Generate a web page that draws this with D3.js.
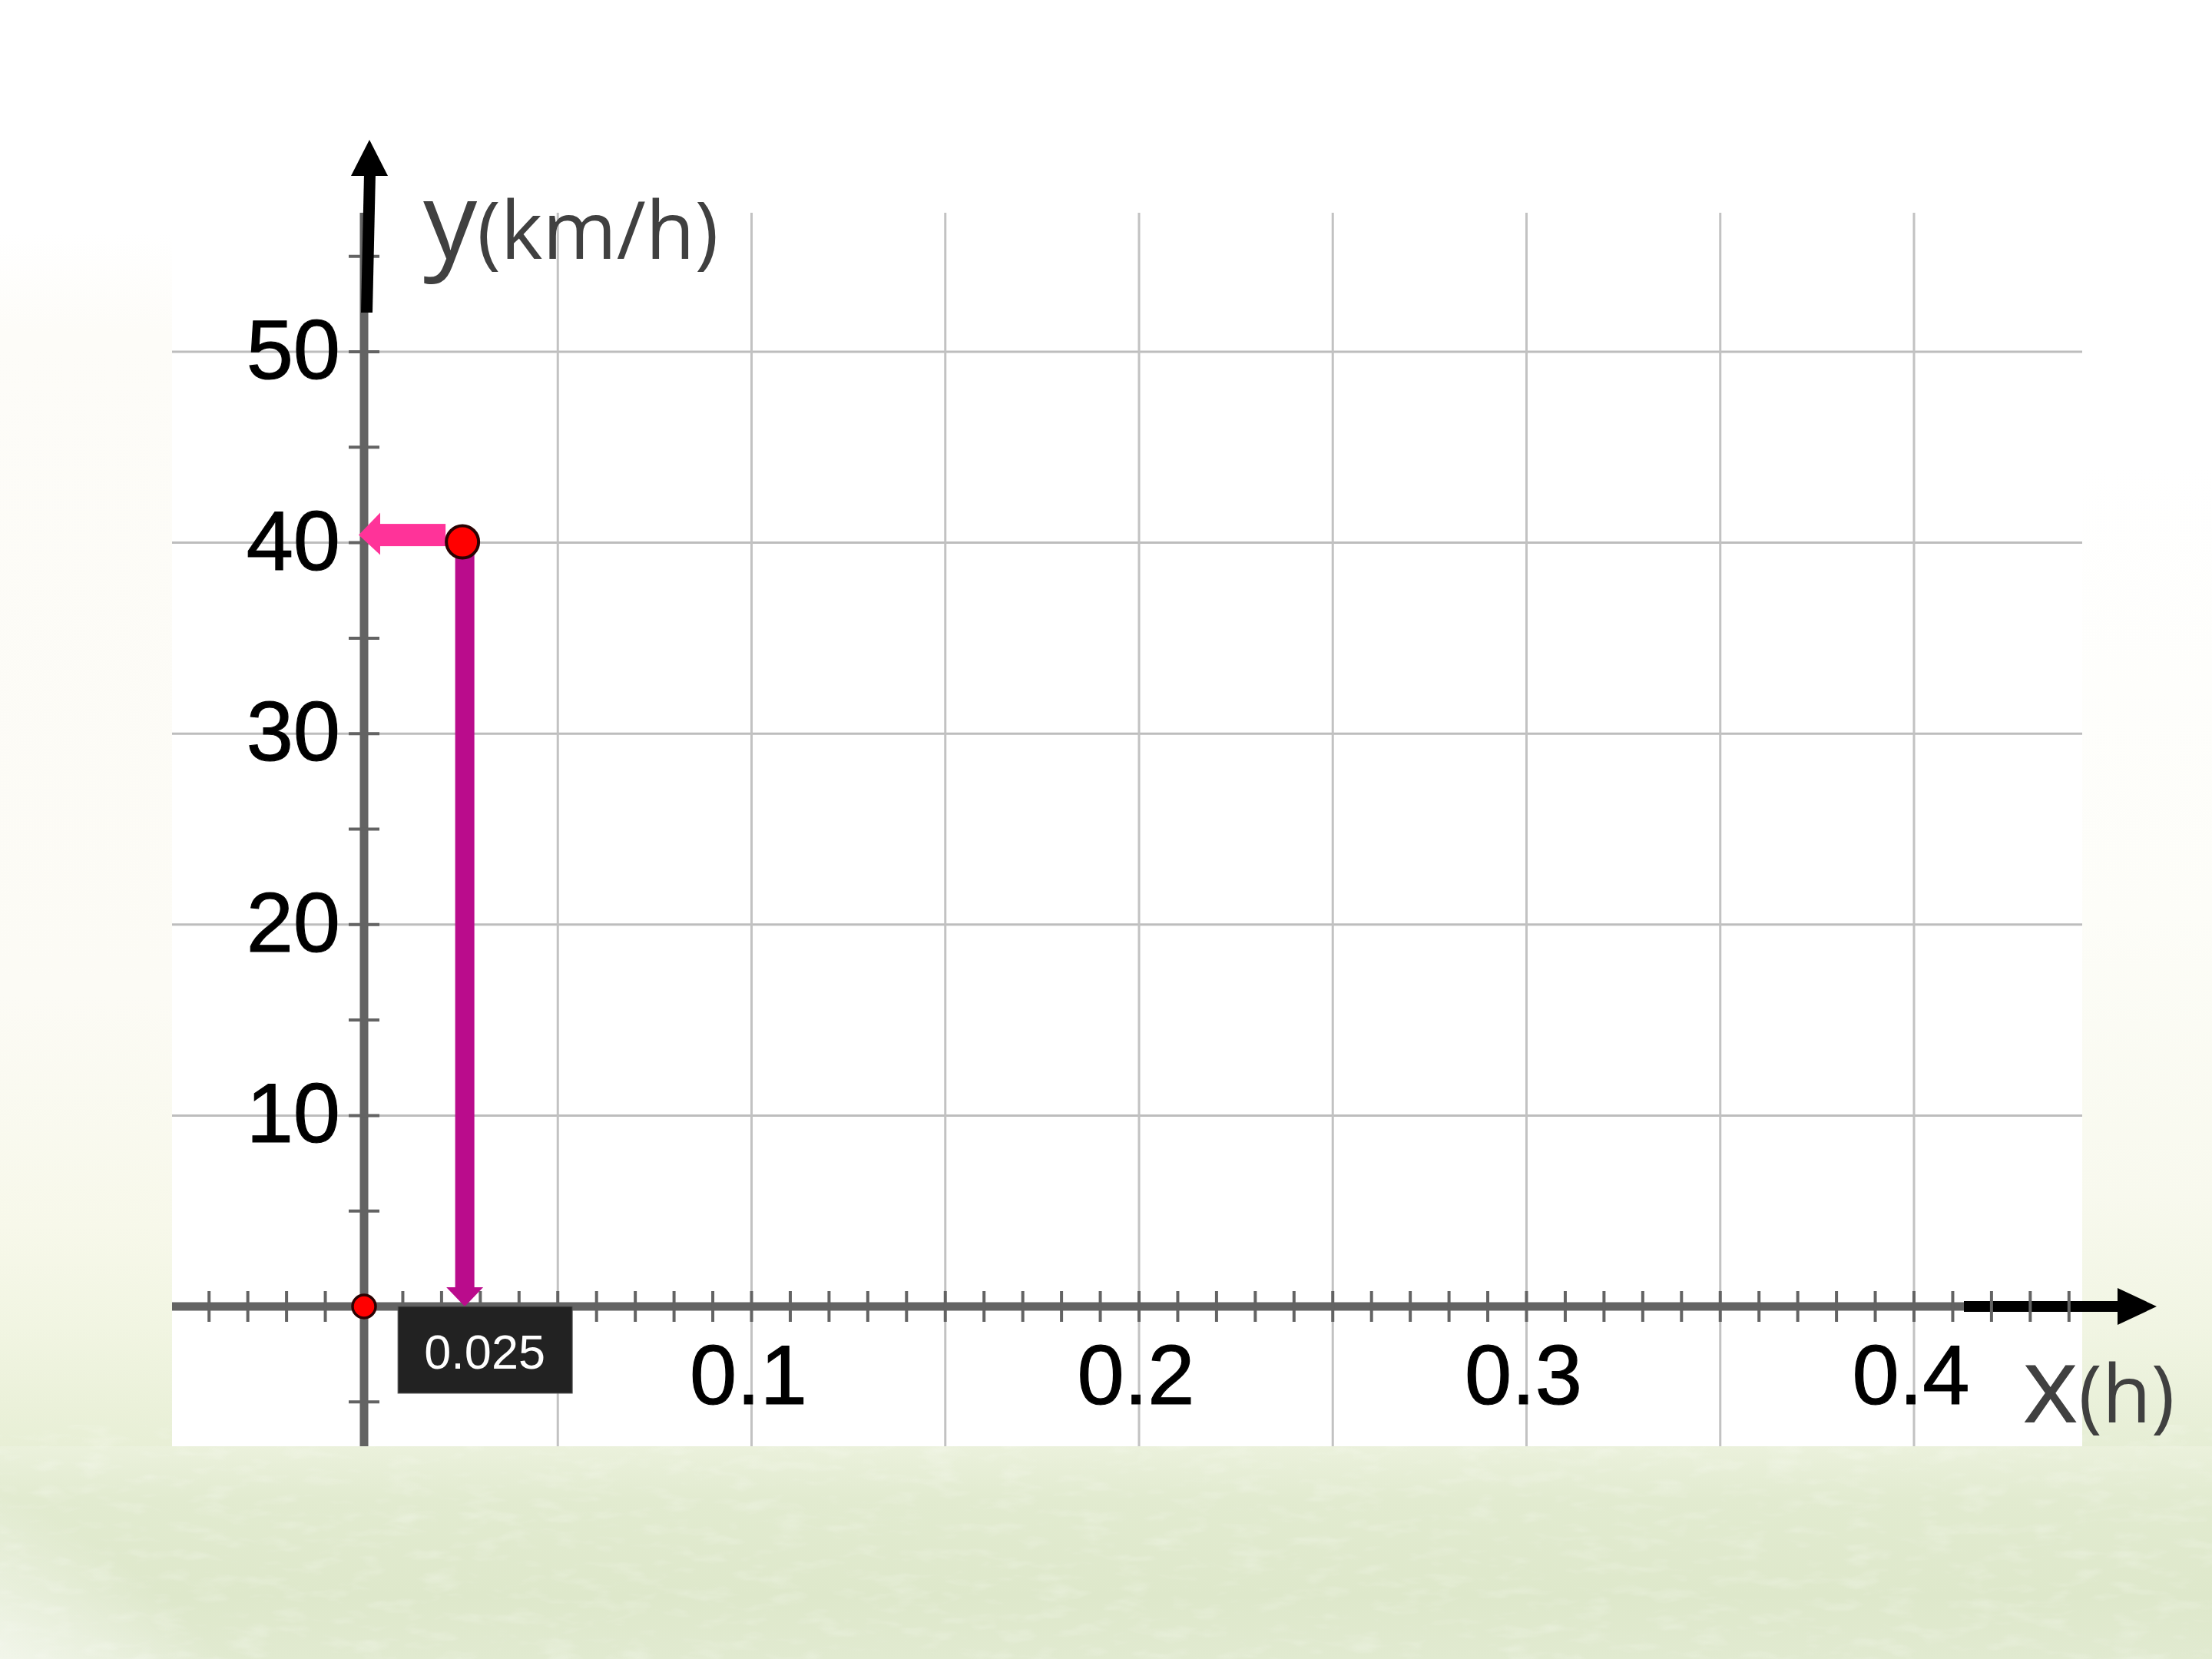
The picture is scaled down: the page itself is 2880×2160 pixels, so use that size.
<!DOCTYPE html>
<html>
<head>
<meta charset="utf-8">
<script src="https://cdn.jsdelivr.net/npm/d3@7"></script>
<style>
  html, body { margin: 0; padding: 0; background: #fff; }
  svg { display: block; }
  .tick-label { font-family: "Liberation Sans", Arial, sans-serif; font-size: 110px; fill: #000; stroke: #000; stroke-width: 1.2px; }
  .axis-title { font-family: "Open Sans", sans-serif; fill: #404040; }
</style>
</head>
<body>
<svg width="2880" height="2160"></svg>
<script>
// chart values
const xTickValues = [0.1, 0.2, 0.3, 0.4];
const xTickLabels = ['0.1', '0.2', '0.3', '0.4'];
const yTickValues = [10, 20, 30, 40, 50];
const yTickLabels = ['10', '20', '30', '40', '50'];
const xGridValues = [0.05, 0.1, 0.15, 0.2, 0.25, 0.3, 0.35, 0.4];
const pointX = [0.025];
const pointY = [40];
const pointLabels = ['0.025'];
const originX = [0];
const originY = [0];

const svg = d3.select('svg');
const width = +svg.attr('width');
const height = +svg.attr('height');

// plot frame (white board)
const frame = { left: 224, right: 2711, top: 277, bottom: 1883 };

const xScale = d3.scaleLinear().domain([0, 0.4]).range([474, 2492]);
const yScale = d3.scaleLinear().domain([0, 50]).range([1701, 458]);

const x0 = xScale(0);
const y0 = yScale(0);
const axisGray = '#636363';

// background
const defs = svg.append('defs');
const addStops = (grad, stops) =>
  stops.forEach(([o, c, a]) => grad.append('stop').attr('offset', o).attr('stop-color', c).attr('stop-opacity', a === undefined ? 1 : a));

const leftGrad = defs.append('linearGradient').attr('id', 'leftGrad')
  .attr('x1', 0).attr('y1', 0).attr('x2', 0).attr('y2', 1);
addStops(leftGrad, [[0, '#ffffff'], [0.14, '#ffffff'], [0.2, '#fdfcf8'], [0.6, '#fcfbf5'], [0.74, '#f7f8ea'], [0.8, '#f1f5e2'], [0.87, '#e8efd6'], [1, '#e4ecd2']]);
const rightGrad = defs.append('linearGradient').attr('id', 'rightGrad')
  .attr('x1', 0).attr('y1', 0).attr('x2', 0).attr('y2', 1);
addStops(rightGrad, [[0, '#ffffff'], [0.28, '#ffffff'], [0.55, '#fdfdf8'], [0.72, '#f8f9ee'], [0.8, '#f1f5e3'], [0.87, '#e6eed5'], [1, '#e2ebd0']]);
const bottomGrad = defs.append('linearGradient').attr('id', 'bottomGrad')
  .attr('x1', 0).attr('y1', 0).attr('x2', 0).attr('y2', 1);
addStops(bottomGrad, [[0, '#ebf1dc'], [0.25, '#e2ebd0'], [0.7, '#dee8cb'], [1, '#e1ead0']]);
const fade = defs.append('radialGradient').attr('id', 'fade')
  .attr('cx', 0).attr('cy', 1).attr('r', 1);
addStops(fade, [[0, '#ffffff', 1], [0.5, '#ffffff', 0.95], [1, '#ffffff', 0]]);
const noise = defs.append('filter').attr('id', 'noise');
noise.append('feTurbulence').attr('type', 'fractalNoise').attr('baseFrequency', '0.02 0.06').attr('numOctaves', 3).attr('seed', 4);
noise.append('feColorMatrix').attr('values', '0 0 0 0 1  0 0 0 0 1  0 0 0 0 1  0 0 0 1.6 -0.8');

svg.append('rect').attr('width', width).attr('height', height).attr('fill', '#ffffff');
svg.append('rect').attr('x', 0).attr('y', 0).attr('width', frame.left).attr('height', height).attr('fill', 'url(#leftGrad)');
svg.append('rect').attr('x', frame.right).attr('y', 0).attr('width', width - frame.right).attr('height', height).attr('fill', 'url(#rightGrad)');
svg.append('rect').attr('x', 0).attr('y', frame.bottom).attr('width', width).attr('height', height - frame.bottom).attr('fill', 'url(#bottomGrad)');
svg.append('rect').attr('x', 0).attr('y', frame.bottom).attr('width', width).attr('height', height - frame.bottom)
  .attr('filter', 'url(#noise)').attr('opacity', 0.35);
svg.append('ellipse').attr('cx', 0).attr('cy', height).attr('rx', 400).attr('ry', 300).attr('fill', 'url(#fade)');

svg.append('rect')
  .attr('x', frame.left).attr('y', 0)
  .attr('width', frame.right - frame.left).attr('height', frame.bottom)
  .attr('fill', '#ffffff');

const g = svg.append('g');

// grid
g.selectAll('.hgrid').data(yTickValues).join('line')
  .attr('x1', frame.left).attr('x2', frame.right)
  .attr('y1', d => yScale(d)).attr('y2', d => yScale(d))
  .attr('stroke', '#bdbdbd').attr('stroke-width', 3);
g.selectAll('.vgrid').data(xGridValues).join('line')
  .attr('x1', d => xScale(d)).attr('x2', d => xScale(d))
  .attr('y1', frame.top).attr('y2', frame.bottom)
  .attr('stroke', '#c2c2c2').attr('stroke-width', 3);

// gray axes
g.append('line').attr('x1', frame.left).attr('x2', 2560).attr('y1', y0).attr('y2', y0)
  .attr('stroke', axisGray).attr('stroke-width', 11);
g.append('line').attr('x1', x0).attr('x2', x0).attr('y1', frame.top).attr('y2', frame.bottom)
  .attr('stroke', axisGray).attr('stroke-width', 11);

// black x arrow
g.append('line').attr('x1', 2557).attr('x2', 2765).attr('y1', y0).attr('y2', y0)
  .attr('stroke', '#000').attr('stroke-width', 14);
g.append('path').attr('d', `M2757,${y0 - 24} L2808,${y0} L2757,${y0 + 24} Z`).attr('fill', '#000');

// ticks
const xMinor = d3.range(-4, 45).filter(i => i !== 0).map(i => i / 100);
g.selectAll('.xtick').data(xMinor).join('line')
  .attr('x1', d => xScale(d)).attr('x2', d => xScale(d))
  .attr('y1', y0 - 20).attr('y2', y0 + 20)
  .attr('stroke', axisGray).attr('stroke-width', 4);
const yMinor = d3.range(-1, 12).filter(k => k !== 0).map(k => k * 5);
g.selectAll('.ytick').data(yMinor).join('line')
  .attr('x1', x0 - 20).attr('x2', x0 + 20)
  .attr('y1', d => yScale(d)).attr('y2', d => yScale(d))
  .attr('stroke', axisGray).attr('stroke-width', 4);

// black y arrow (slightly tilted shaft)
g.append('path').attr('d', `M${x0 - 4},407 L${x0 + 11},407 L${x0 + 15},226 L${x0},226 Z`).attr('fill', '#000');
g.append('path').attr('d', `M${x0 - 17},229 L${x0 + 31},229 L${x0 + 7},182 Z`).attr('fill', '#000');

// tick labels
g.selectAll('.ylabel').data(yTickValues).join('text')
  .attr('class', 'tick-label')
  .attr('x', x0 - 31).attr('y', d => yScale(d) + 35)
  .attr('text-anchor', 'end')
  .text((d, i) => yTickLabels[i]);
g.selectAll('.xlabel').data(xTickValues).join('text')
  .attr('class', 'tick-label')
  .attr('x', d => xScale(d) - 4).attr('y', y0 + 127)
  .attr('text-anchor', 'middle')
  .text((d, i) => xTickLabels[i]);

// axis titles
const yTitle = g.append('text').attr('class', 'axis-title').attr('x', x0 + 77).attr('y', 337);
yTitle.append('tspan').attr('font-size', 140).text('y');
yTitle.append('tspan').attr('font-size', 104).text('(km/h)');
const xTitle = g.append('text').attr('class', 'axis-title').attr('x', 2633).attr('y', y0 + 151);
xTitle.append('tspan').attr('font-size', 140).text('x');
xTitle.append('tspan').attr('font-size', 104).text('(h)');

// projections from the point
pointX.forEach((px, i) => {
  const cx = xScale(px);
  const cy = yScale(pointY[i]);

  // magenta arrow down to x axis
  g.append('rect').attr('x', cx + 5 - 12.5).attr('y', cy).attr('width', 25).attr('height', y0 - 24 - cy)
    .attr('fill', '#ba0c8c');
  g.append('path').attr('d', `M${cx + 5 - 24},${y0 - 25} L${cx + 5 + 24},${y0 - 25} L${cx + 5},${y0} Z`)
    .attr('fill', '#ba0c8c');

  // pink arrow left to y axis
  const ay = cy - 10;
  g.append('rect').attr('x', x0 + 20).attr('y', ay - 14.5).attr('width', cx - 20 - (x0 + 20)).attr('height', 29)
    .attr('fill', '#ff3399');
  g.append('path').attr('d', `M${x0 + 21},${ay - 29} L${x0 + 21},${ay + 26} L${x0 - 7},${ay} Z`)
    .attr('fill', '#ff3399');

  // value label box on the x axis
  g.append('rect').attr('x', cx - 82).attr('y', y0).attr('width', 227).attr('height', 113)
    .attr('fill', '#222222').attr('stroke', '#555').attr('stroke-width', 1);
  g.append('text').attr('x', cx + 31).attr('y', y0 + 81)
    .attr('text-anchor', 'middle')
    .attr('font-family', '"Liberation Sans", Arial, sans-serif')
    .attr('font-size', 63).attr('fill', '#ffffff')
    .text(pointLabels[i]);

  // the point
  g.append('circle').attr('cx', cx + 2).attr('cy', cy - 1).attr('r', 21)
    .attr('fill', '#ff0000').attr('stroke', '#2a0202').attr('stroke-width', 4);
});

// origin point
originX.forEach((ox, i) => {
  g.append('circle').attr('cx', xScale(ox)).attr('cy', yScale(originY[i])).attr('r', 15)
    .attr('fill', '#ff0000').attr('stroke', '#2a0202').attr('stroke-width', 3.5);
});
</script>
</body>
</html>
